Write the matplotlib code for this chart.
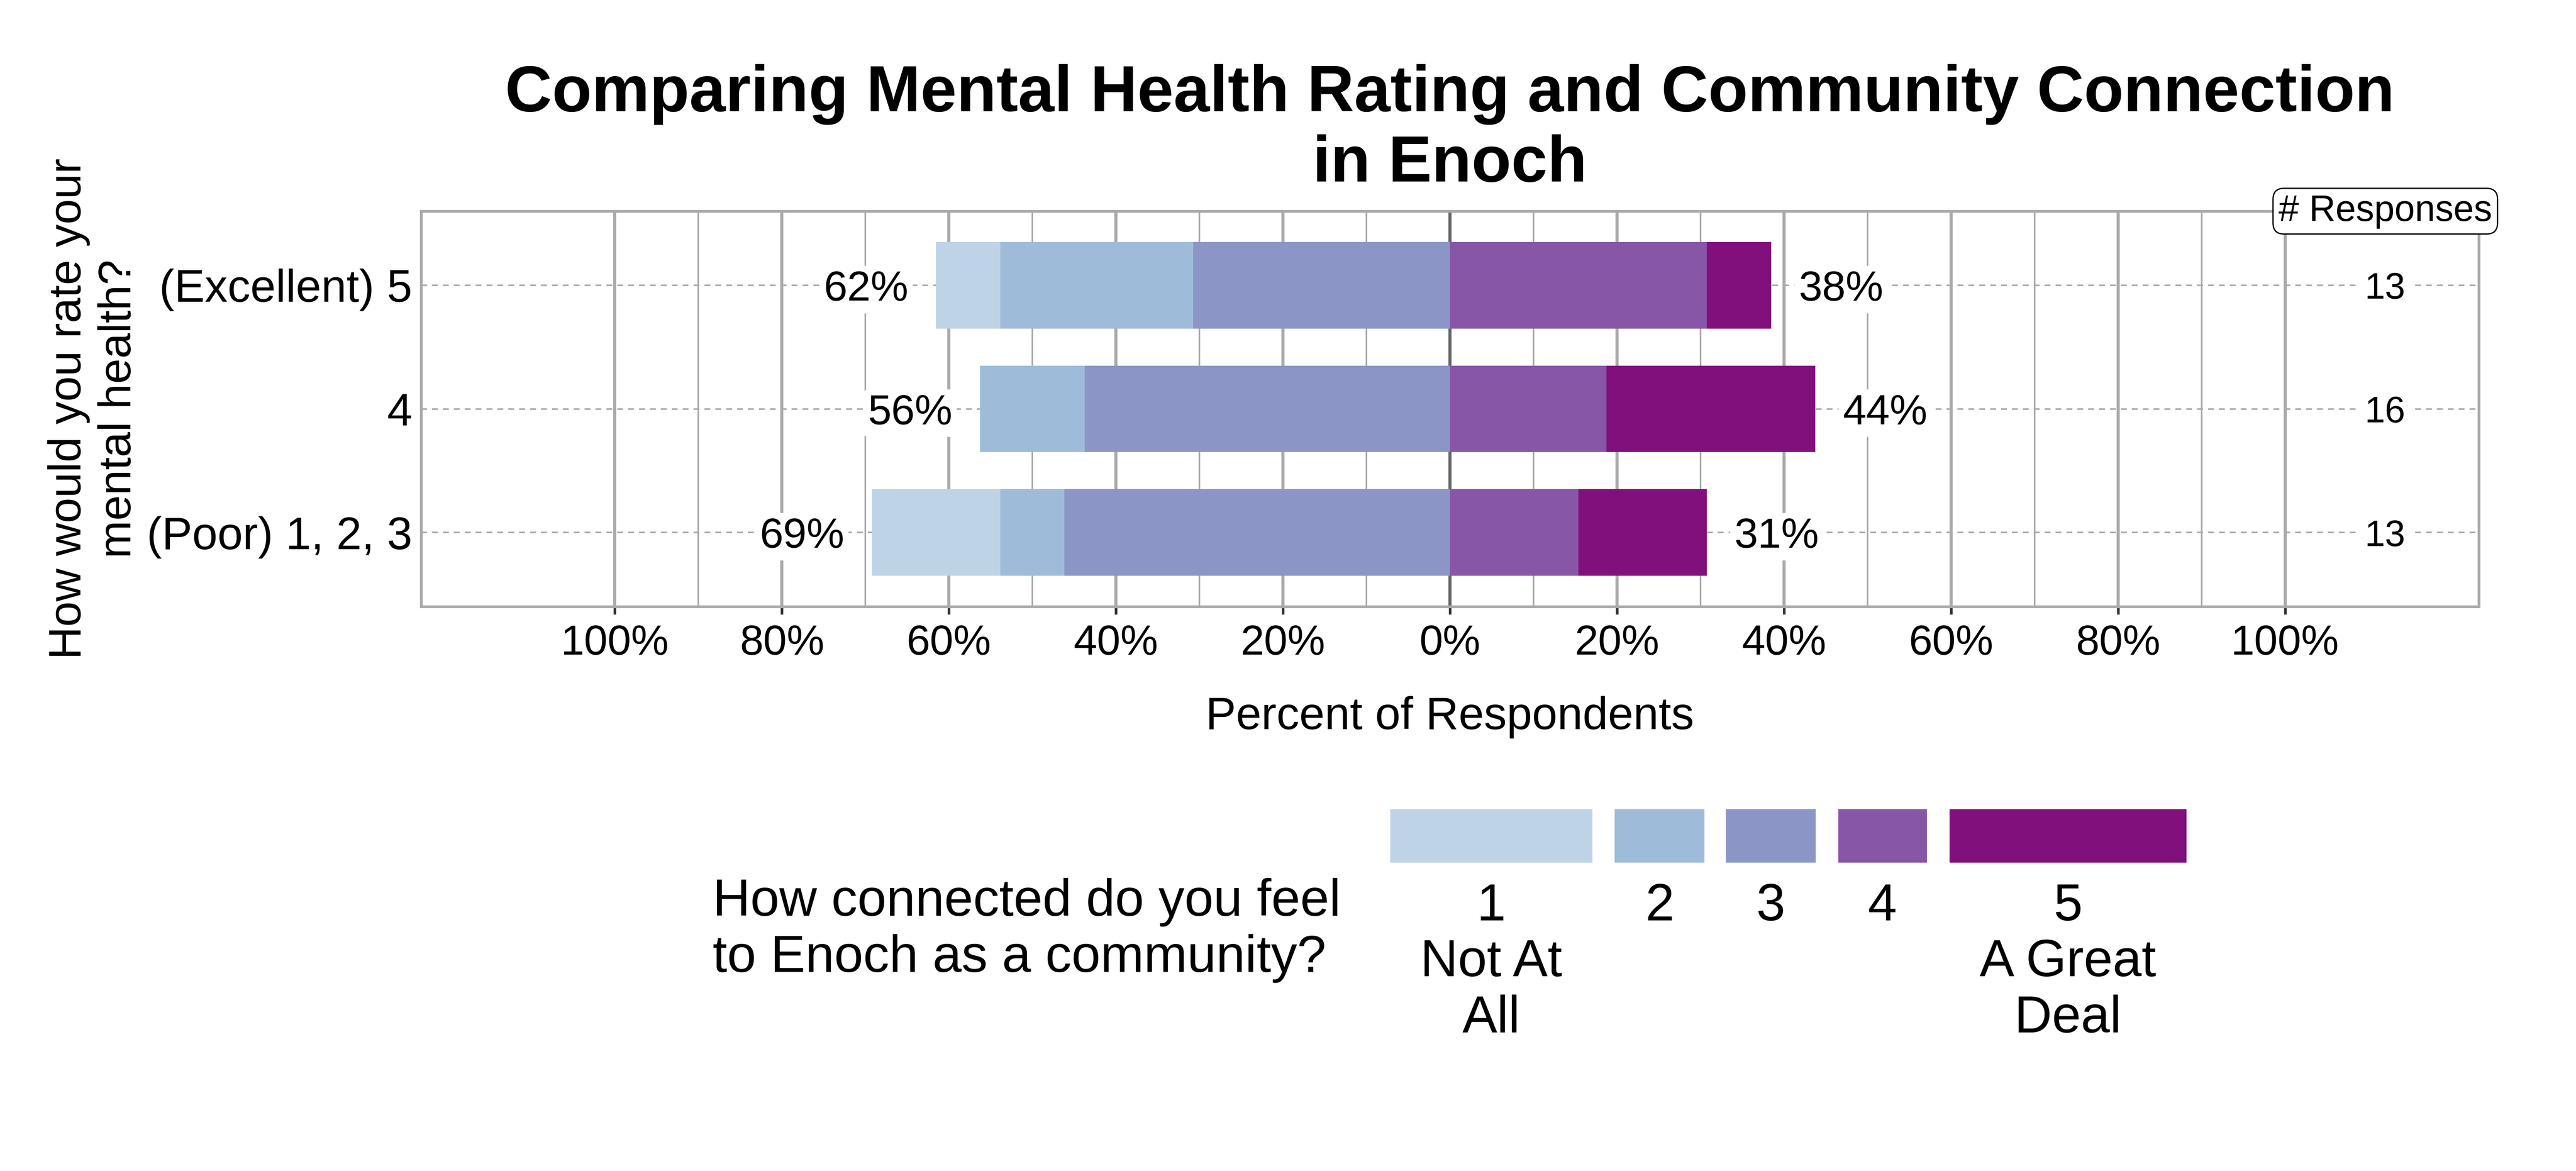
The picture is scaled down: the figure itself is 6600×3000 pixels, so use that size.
import numpy as np
import matplotlib
matplotlib.use("Agg")
import matplotlib.pyplot as plt
from matplotlib.patches import Rectangle
from matplotlib import ticker

plt.rcParams['font.family'] = ['Liberation Sans', 'DejaVu Sans']

# canvas in pixels
W, H, DPI = 6600, 3000, 300

title_lines = ["Comparing Mental Health Rating and Community Connection", "in Enoch"]
ylabel_lines = ["How would you rate your", "mental health?"]
xlabel = "Percent of Respondents"
legend_title_lines = ["How connected do you feel", "to Enoch as a community?"]

categories = ["(Excellent) 5", "4", "(Poor) 1, 2, 3"]
level_labels = ["1\nNot At\nAll", "2", "3", "4", "5\nA Great\nDeal"]
level_colors = ["#bfd3e6", "#9ebcda", "#8c96c6", "#8856a7", "#810f7c"]

# number of answers for connection level 1..5, per mental health group
counts_excellent = [1, 3, 4, 4, 1]
counts_4 = [0, 2, 7, 3, 4]
counts_poor = [2, 1, 6, 2, 2]
n_responses = [13, 16, 13]

xticks = np.arange(-100, 101, 20)
xticks_minor = np.arange(-90, 91, 20)


def px_x(x):
    return x / W


def px_y(y):
    return 1 - y / H


counts = np.array([counts_excellent, counts_4, counts_poor], dtype=float)
pct = counts / np.array(n_responses, dtype=float)[:, None] * 100
neg_levels = [2, 1, 0]   # stacked outward from zero
pos_levels = [3, 4]

fig = plt.figure(figsize=(W / DPI, H / DPI), dpi=DPI)
ax = fig.add_axes([px_x(1079), px_y(1554), (6351 - 1079) / W, (1554 - 541) / H])

ypos = np.arange(len(categories))
for i, y in enumerate(ypos):
    left = 0.0
    for k in neg_levels:
        left -= pct[i, k]
        ax.barh(y, pct[i, k], left=left, height=0.7, color=level_colors[k], lw=0, zorder=2)
    left = 0.0
    for k in pos_levels:
        ax.barh(y, pct[i, k], left=left, height=0.7, color=level_colors[k], lw=0, zorder=2)
        left += pct[i, k]

    neg_total = pct[i, neg_levels].sum()
    pos_total = pct[i, pos_levels].sum()
    lab_box = dict(boxstyle='round,pad=0.1', fc='white', ec='none')
    ax.text(-neg_total - 3.3, y, f"{neg_total:.0f}%", ha='right', va='center_baseline',
            fontsize=26, bbox=lab_box, zorder=3)
    ax.text(pos_total + 3.3, y, f"{pos_total:.0f}%", ha='left', va='center_baseline',
            fontsize=26, bbox=lab_box, zorder=3)
    ax.text(112, y, str(n_responses[i]), ha='center', va='center_baseline', fontsize=22.5,
            bbox=dict(boxstyle='square,pad=0.2', fc='white', ec='none'), zorder=3)

ax.text(112, 1.0, "# Responses", transform=ax.get_xaxis_transform(), ha='center', va='center',
        fontsize=22.5, zorder=6, clip_on=False,
        bbox=dict(boxstyle='round,pad=0.15,rounding_size=0.3', fc='white', ec='black', lw=0.8))

ax.set_xlim(-123.2, 123.2)
ax.set_ylim(2.6, -0.6)
ax.set_xticks(xticks)
ax.set_xticks(xticks_minor, minor=True)
ax.xaxis.set_major_formatter(ticker.FuncFormatter(lambda v, p: f"{abs(v):.0f}%"))
ax.set_yticks(ypos, categories)

ax.set_axisbelow(True)
ax.grid(which='major', axis='x', color='#aaaaaa', lw=1.9)
ax.grid(which='minor', axis='x', color='#aaaaaa', lw=1.0)
ax.grid(which='major', axis='y', color='#aaaaaa', lw=1.0, linestyle=(0, (3.6, 3.1)))
ax.axvline(0, color='#666666', lw=1.9, zorder=1.5)

for s in ax.spines.values():
    s.set_color('#aaaaaa')
    s.set_linewidth(1.7)

ax.tick_params(axis='x', which='major', length=4.8, width=1.6, color='#333333', pad=6, labelsize=26)
ax.tick_params(axis='x', which='minor', length=0)
ax.tick_params(axis='y', length=0, pad=5.5, labelsize=28)

# title, axis labels
fig.text(px_x(3715), px_y(285), title_lines[0], ha='center', va='baseline', fontsize=40, weight='bold')
fig.text(px_x(3715), px_y(465), title_lines[1], ha='center', va='baseline', fontsize=40, weight='bold')
fig.text(px_x(3715), px_y(1868), xlabel, ha='center', va='baseline', fontsize=28)
for line, xb in zip(ylabel_lines, [207, 335]):
    fig.text(px_x(xb), px_y(1047), line, rotation=90, rotation_mode='anchor',
             ha='center', va='baseline', fontsize=28)

# legend
leg_x = [3562, 4137, 4422, 4710, 4995]
leg_w = [518, 230, 230, 227, 607]
for k in range(len(level_labels)):
    fig.add_artist(Rectangle((px_x(leg_x[k]), px_y(2210)), leg_w[k] / W, (2210 - 2073) / H,
                             transform=fig.transFigure, fc=level_colors[k], ec='none'))
    for j, line in enumerate(level_labels[k].split('\n')):
        fig.text(px_x(leg_x[k] + leg_w[k] / 2), px_y(2358 + 143.5 * j), line,
                 ha='center', va='baseline', fontsize=32)
for j, line in enumerate(legend_title_lines):
    fig.text(px_x(1826), px_y(2346 + 144 * j), line, ha='left', va='baseline', fontsize=32)

fig.savefig('out.png', dpi=DPI)
